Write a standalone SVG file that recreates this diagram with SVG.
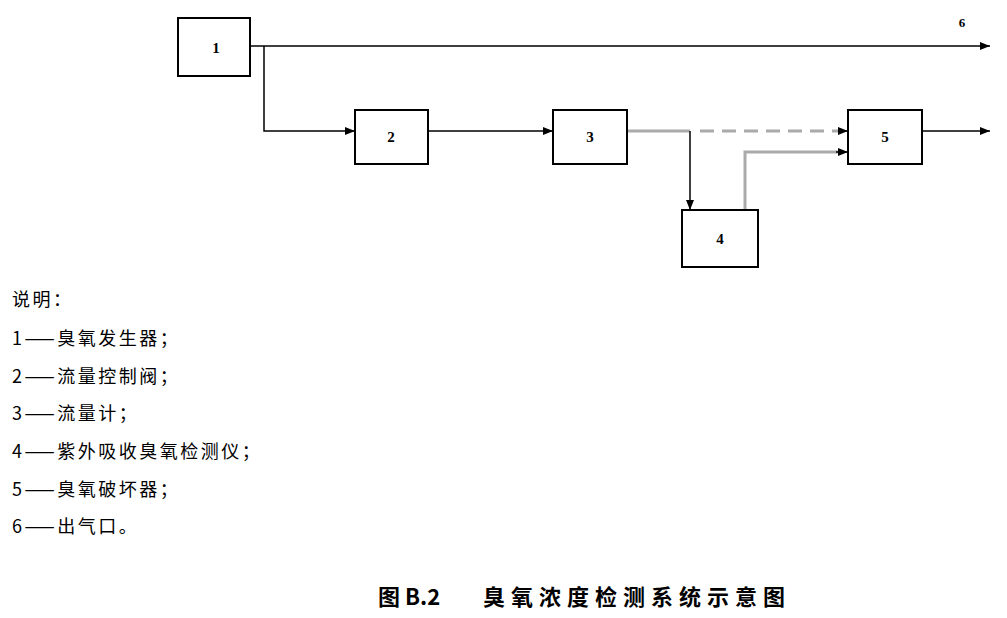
<svg xmlns="http://www.w3.org/2000/svg" width="1007" height="618" viewBox="0 0 1007 618">
<style>
.b{fill:#fff;stroke:#000;stroke-width:2}
.n{font-family:"Liberation Serif",serif;font-size:15px;font-weight:bold;text-anchor:middle}
.l{stroke:#000;stroke-width:1.5;fill:none}
.g{stroke:#aaa;stroke-width:3;fill:none}
.t{font-family:"Noto Sans CJK SC",sans-serif;font-size:18px;letter-spacing:2.5px}
.h{font-family:"Noto Sans CJK SC",sans-serif;font-weight:bold;font-size:22px}
</style>
<defs><marker id="a" markerWidth="10" markerHeight="8" refX="10" refY="4" orient="auto" markerUnits="userSpaceOnUse"><path d="M0,0L10,4L0,8z"/></marker></defs>
<rect width="1007" height="618" fill="#fff"/>
<g id="connectors">
<path class="l" d="M250,46H990" marker-end="url(#a)"/>
<path class="l" d="M264,46V131H355" marker-end="url(#a)"/>
<path class="l" d="M428,131H553" marker-end="url(#a)"/>
<path class="g" d="M627,131H690"/>
<path class="g" d="M700,131H840" stroke-dasharray="14,8"/>
<path class="l" d="M838,131H848" marker-end="url(#a)"/>
<path class="l" d="M690,131V210" marker-end="url(#a)"/>
<path class="g" d="M745,210V152H838"/>
<path class="l" d="M836,152H848" marker-end="url(#a)"/>
<path class="l" d="M922,131H990" marker-end="url(#a)"/>
</g>
<g id="n1"><rect class="b" x="178" y="18" width="72" height="58"/><text class="n" x="216" y="53">1</text></g>
<g id="n2"><rect class="b" x="355" y="110" width="73" height="54"/><text class="n" x="391" y="142">2</text></g>
<g id="n3"><rect class="b" x="553" y="110" width="74" height="54"/><text class="n" x="590" y="142">3</text></g>
<g id="n4"><rect class="b" x="682" y="210" width="76" height="57"/><text class="n" x="720" y="244">4</text></g>
<g id="n5"><rect class="b" x="848" y="110" width="74" height="54"/><text class="n" x="885" y="142">5</text></g>
<text class="n" x="962" y="27" style="font-size:13px">6</text>
<g class="t">
<text x="12" y="306">说明：</text>
<text x="12" y="345">1——臭氧发生器；</text>
<text x="12" y="383">2——流量控制阀；</text>
<text x="12" y="420">3——流量计；</text>
<text x="12" y="458">4——紫外吸收臭氧检测仪；</text>
<text x="12" y="496">5——臭氧破坏器；</text>
<text x="12" y="533">6——出气口。</text>
</g>
<text class="h" x="378" y="605">图 B.2</text>
<text class="h" x="483" y="605" style="letter-spacing:6px">臭氧浓度检测系统示意图</text>
</svg>
